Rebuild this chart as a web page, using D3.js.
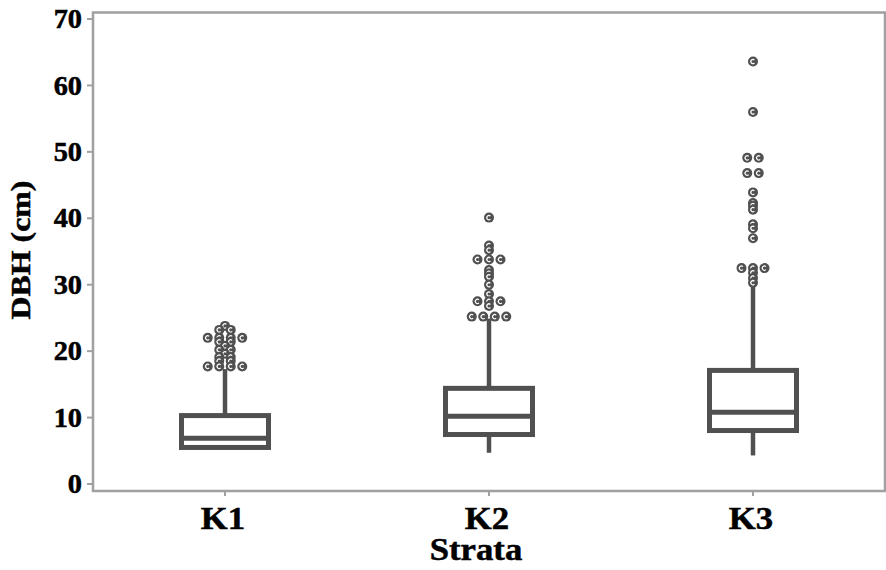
<!DOCTYPE html>
<html>
<head>
<meta charset="utf-8">
<script src="https://cdn.jsdelivr.net/npm/d3@7"></script>
<style>
  body { margin: 0; background: #fff; }
  text { font-family: "Liberation Serif", "Times New Roman", serif; font-weight: bold; fill: #000; stroke: #000; stroke-width: 0.5px; }
</style>
</head>
<body>
<div id="chart"></div>
<script>
// data
var categories = ['K1', 'K2', 'K3'];
var whiskerLow = [5.5, 4.7, 4.3];
var q1 = [5.5, 7.45, 8.05];
var median = [6.9, 10.2, 10.8];
var q3 = [10.3, 14.4, 17.1];
var whiskerHigh = [17.3, 24.9, 30.2];
var outliersK1 = [23.8, 23.2, 23.2, 22.0, 22.0, 22.0, 22.0, 21.4, 21.4, 20.8, 20.2, 20.2, 19.6, 19.1, 19.1, 18.5, 18.5, 17.7, 17.7, 17.7, 17.7];
var outliersK2 = [40.1, 35.9, 35.2, 33.8, 33.8, 33.8, 32.2, 31.7, 31.2, 30.0, 28.6, 27.5, 27.5, 27.5, 26.8, 25.2, 25.2, 25.2, 25.2];
var outliersK3 = [63.6, 56.0, 49.1, 49.1, 46.8, 46.8, 43.9, 42.3, 41.9, 41.3, 39.1, 38.5, 37.0, 32.5, 32.5, 32.5, 31.8, 31.0, 30.3];
var yTicks = [0, 10, 20, 30, 40, 50, 60, 70];

var outliers = [outliersK1, outliersK2, outliersK3];

var width = 886, height = 570,
    frame = { left: 93, right: 885, top: 12.5, bottom: 491 },
    ink = '#505050', grey = '#a0a0a0';

var svg = d3.select('#chart').append('svg')
    .attr('width', width)
    .attr('height', height);

var x = d3.scaleBand().domain(categories).range([frame.left, frame.right]);
var y = d3.scaleLinear().domain([0, 70]).range([484, 19]);

// frame
svg.append('rect')
    .attr('x', frame.left).attr('y', frame.top)
    .attr('width', frame.right - frame.left).attr('height', frame.bottom - frame.top)
    .attr('fill', 'none').attr('stroke', grey).attr('stroke-width', 2.5);

// y axis ticks + labels
var yAxis = svg.append('g');
yTicks.forEach(function (t) {
    yAxis.append('line')
        .attr('x1', frame.left - 6).attr('x2', frame.left)
        .attr('y1', y(t)).attr('y2', y(t))
        .attr('stroke', grey).attr('stroke-width', 2);
    yAxis.append('text')
        .attr('transform', 'translate(82,' + y(t) + ') scale(1.05,1)')
        .attr('dy', '0.34em')
        .attr('text-anchor', 'end')
        .style('font-size', '27px')
        .text(t);
});

// x axis ticks + labels
categories.forEach(function (c) {
    var cx = x(c) + x.bandwidth() / 2;
    svg.append('line')
        .attr('x1', cx).attr('x2', cx)
        .attr('y1', frame.bottom).attr('y2', frame.bottom + 5)
        .attr('stroke', grey).attr('stroke-width', 2);
    svg.append('text')
        .attr('transform', 'translate(' + (cx - 2) + ',529) scale(1.12,1)')
        .attr('text-anchor', 'middle')
        .style('font-size', '31px')
        .text(c);
});

svg.append('text')
    .attr('transform', 'translate(' + (x('K2') + x.bandwidth() / 2 - 13) + ',560) scale(1.12,1)')
    .attr('text-anchor', 'middle')
    .style('font-size', '31px')
    .text('Strata');

svg.append('text')
    .attr('transform', 'translate(30,250) rotate(-90) scale(1.18,1)')
    .attr('text-anchor', 'middle')
    .style('font-size', '27px')
    .text('DBH (cm)');

// boxes
var boxW = 87;
categories.forEach(function (c, i) {
    var cx = x(c) + x.bandwidth() / 2,
        g = svg.append('g');

    g.append('line')
        .attr('x1', cx).attr('x2', cx)
        .attr('y1', y(q3[i])).attr('y2', y(whiskerHigh[i]))
        .attr('stroke', ink).attr('stroke-width', 4.5);
    g.append('line')
        .attr('x1', cx).attr('x2', cx)
        .attr('y1', y(q1[i])).attr('y2', y(whiskerLow[i]))
        .attr('stroke', ink).attr('stroke-width', 4.5);
    g.append('rect')
        .attr('x', cx - boxW / 2).attr('y', y(q3[i]))
        .attr('width', boxW).attr('height', y(q1[i]) - y(q3[i]))
        .attr('fill', 'none').attr('stroke', ink).attr('stroke-width', 5);
    g.append('line')
        .attr('x1', cx - boxW / 2).attr('x2', cx + boxW / 2)
        .attr('y1', y(median[i])).attr('y2', y(median[i]))
        .attr('stroke', ink).attr('stroke-width', 5);

    // outliers: equal values are spread side by side
    var counts = d3.rollup(outliers[i], function (v) { return v.length; }, function (d) { return d; }),
        seen = new Map(),
        pts = outliers[i].map(function (v) {
            var n = counts.get(v), k = seen.get(v) || 0;
            seen.set(v, k + 1);
            return { v: v, dx: (k - (n - 1) / 2) * 11.5 };
        });

    var dots = g.selectAll('g.dot').data(pts).enter().append('g')
        .attr('class', 'dot')
        .attr('transform', function (d) { return 'translate(' + (cx + d.dx) + ',' + y(d.v) + ')'; });
    dots.append('circle')
        .attr('r', 5)
        .attr('fill', ink);
    dots.append('path')
        .attr('d', 'M 1.4 -1.5 A 2.1 2.1 0 1 0 1.4 1.5')
        .attr('fill', 'none')
        .attr('stroke', '#fff')
        .attr('stroke-width', 1.2);
});
</script>
</body>
</html>
